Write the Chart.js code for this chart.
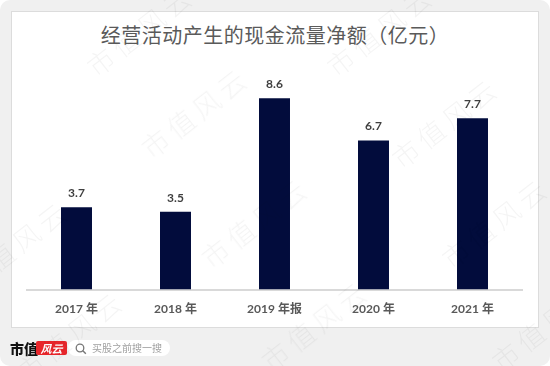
<!DOCTYPE html>
<html>
<head>
<meta charset="utf-8">
<script src="https://cdn.jsdelivr.net/npm/chart.js@4"></script>
<style>
  html, body { margin: 0; padding: 0; background: #ffffff; }
  #outer { position: absolute; left: 0; top: 0; width: 550px; height: 366px; background: #f0f0f0; border-radius: 10px; overflow: hidden; }
  #panel { position: absolute; left: 11px; top: 11px; width: 526px; height: 315px; background: #ffffff; border: 1px solid #dcdcdc; }
  #title { position: absolute; left: 0; top: 22px; width: 550px; text-align: center; font-family: "Noto Sans CJK SC", sans-serif; font-weight: 400; font-size: 20px; line-height: 26px; color: #5a5a5a; letter-spacing: 0.5px; }
  #chart { position: absolute; left: 0; top: 0; }
  #logo1 { position: absolute; left: 10px; top: 340px; font-family: "Noto Sans CJK SC", serif; font-weight: 900; font-size: 14px; line-height: 16px; color: #111; }
  #logo2 { position: absolute; left: 36px; top: 341px; width: 31px; height: 14px; background: #e8262b; border-radius: 2px; color: #fff; font-family: "Noto Sans CJK SC", sans-serif; font-style: italic; font-size: 11px; line-height: 14px; text-align: center; font-weight: 700; }
  #search { position: absolute; left: 68px; top: 340px; width: 102px; height: 16px; background: #fff; border-radius: 8px; }
  #search svg { position: absolute; left: 7px; top: 3px; }
  #search span { position: absolute; left: 24px; top: 0px; font-family: "Noto Sans CJK SC", sans-serif; font-size: 10px; line-height: 16px; color: #a0a0a0; }
  .wm { position: absolute; transform: translate(-50%, -50%) rotate(-38deg); font-family: "Noto Sans CJK SC", serif; font-weight: 300; font-size: 27px; letter-spacing: 5px; color: rgba(0,0,0,0.045); white-space: nowrap; pointer-events: none; }
</style>
</head>
<body>
<div id="outer">
  <div id="panel"></div>
  <div id="title">经营活动产生的现金流量净额（亿元）</div>
  <canvas id="chart" width="550" height="366"></canvas>
  <div id="logo1">市值</div>
  <div id="logo2">风云</div>
  <div id="search">
    <svg width="12" height="12" viewBox="0 0 12 12"><circle cx="5" cy="5" r="3.8" fill="none" stroke="#777" stroke-width="1.3"/><line x1="7.8" y1="7.8" x2="10.8" y2="10.8" stroke="#777" stroke-width="1.4"/></svg>
    <span>买股之前搜一搜</span>
  </div>
  <div id="wms"></div>
</div>
<script>
const categories = ["2017 年", "2018 年", "2019 年报", "2020 年", "2021 年"];
const cashFlow = [3.7, 3.5, 8.6, 6.7, 7.7];
const valueLabels = ["3.7", "3.5", "8.6", "6.7", "7.7"];
const watermarkText = "市值风云";

const wmCenters = [[140,30],[380,30],[195,112],[445,122],[15,245],[255,222],[495,222],[70,335],[315,325],[545,325]];
const wmBox = document.getElementById('wms');
wmCenters.forEach(c => {
  const d = document.createElement('div');
  d.className = 'wm';
  d.style.left = c[0] + 'px';
  d.style.top = c[1] + 'px';
  d.textContent = watermarkText;
  wmBox.appendChild(d);
});

const valueLabelPlugin = {
  id: 'valueLabels',
  afterDatasetsDraw(chart) {
    const ctx = chart.ctx;
    const meta = chart.getDatasetMeta(0);
    ctx.save();
    ctx.font = 'bold 12px Lato, "Noto Sans CJK SC", sans-serif';
    ctx.fillStyle = '#404040';
    ctx.textAlign = 'center';
    ctx.textBaseline = 'middle';
    meta.data.forEach((bar, i) => {
      ctx.fillText(valueLabels[i], bar.x, bar.y - 14);
    });
    ctx.restore();
  }
};

new Chart(document.getElementById('chart'), {
  type: 'bar',
  data: {
    labels: categories,
    datasets: [{
      data: cashFlow,
      backgroundColor: '#020c3c',
      borderWidth: 0,
      categoryPercentage: 1.0,
      barPercentage: 0.313
    }]
  },
  options: {
    responsive: false,
    devicePixelRatio: 1,
    animation: false,
    layout: { padding: { left: 27, right: 28, top: 67, bottom: 38 } },
    plugins: { legend: { display: false }, tooltip: { enabled: false }, title: { display: false } },
    scales: {
      x: {
        grid: { display: false, drawTicks: false },
        border: { display: true, color: '#d9d9d9', width: 2 },
        ticks: {
          color: '#595959',
          padding: 12,
          font: { family: 'Lato, "Noto Sans CJK SC", sans-serif', size: 12, weight: 'bold', lineHeight: 1.2 }
        }
      },
      y: { display: false, min: 0, max: 10 }
    }
  },
  plugins: [valueLabelPlugin]
});
</script>
</body>
</html>
